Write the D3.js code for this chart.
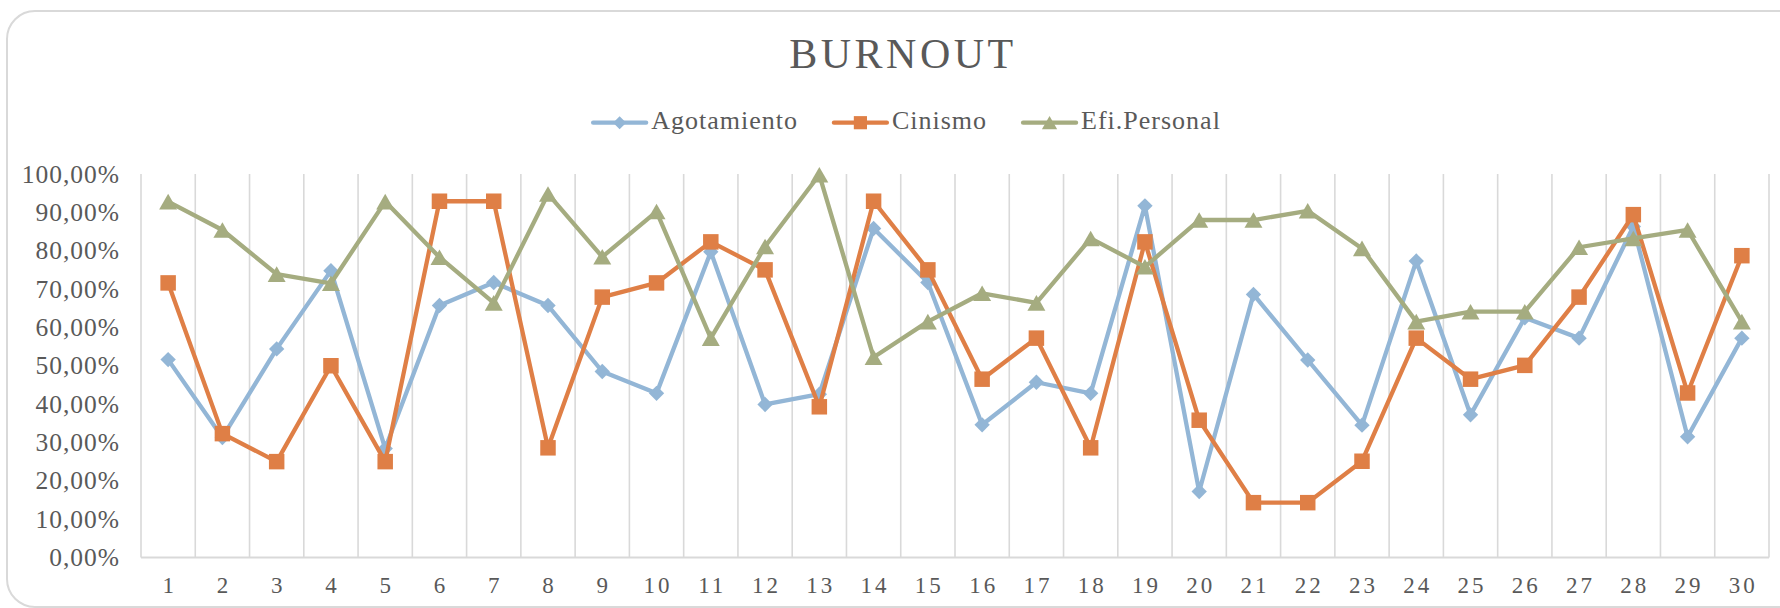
<!DOCTYPE html>
<html>
<head>
<meta charset="utf-8">
<script src="https://cdn.jsdelivr.net/npm/d3@7"></script>
<style>
  html, body { margin: 0; padding: 0; background: #ffffff; }
  svg { display: block; }
  text { font-family: "Liberation Serif", "DejaVu Serif", serif; fill: #595959; }
</style>
</head>
<body>
<svg id="chart" width="1780" height="608"></svg>
<script>
// ---- data ----
const categories = ["1","2","3","4","5","6","7","8","9","10","11","12","13","14","15","16","17","18","19","20","21","22","23","24","25","26","27","28","29","30"];
const seriesNames = ["Agotamiento", "Cinismo", "Efi.Personal"];
const agotamiento = [51.6, 31.3, 54.4, 74.8, 28.4, 65.7, 71.7, 65.7, 48.5, 42.8, 79.7, 39.9, 42.6, 85.8, 71.7, 34.6, 45.7, 42.8, 91.7, 17.2, 68.6, 51.5, 34.5, 77.3, 37.2, 62.5, 57.2, 86.3, 31.5, 57.2];
const cinismo = [71.6, 32.3, 25.0, 50.0, 25.0, 92.9, 92.9, 28.6, 67.9, 71.6, 82.3, 75.0, 39.3, 92.9, 75.0, 46.5, 57.2, 28.6, 82.3, 35.8, 14.3, 14.3, 25.1, 57.2, 46.5, 50.1, 67.9, 89.4, 42.9, 78.7];
const efiPersonal = [92.8, 85.4, 73.9, 71.5, 92.8, 78.3, 66.4, 94.8, 78.4, 90.2, 57.2, 81.1, 99.8, 52.2, 61.5, 68.9, 66.4, 83.2, 75.8, 88.0, 88.0, 90.4, 80.6, 61.5, 64.1, 64.1, 80.9, 83.2, 85.4, 61.5];
const yTicks = [0, 10, 20, 30, 40, 50, 60, 70, 80, 90, 100];
const titleText = "BURNOUT";

// ---- styles ----
const colors = ["#93b6d6", "#df7f46", "#a5ac80"];
const symbols = ["diamond", "square", "triangle"];

const svg = d3.select("#chart");

// chart area border
svg.append("rect")
  .attr("x", 7).attr("y", 11)
  .attr("width", 1800).attr("height", 596)
  .attr("rx", 28).attr("ry", 28)
  .attr("fill", "#ffffff")
  .attr("stroke", "#d9d9d9")
  .attr("stroke-width", 2);

const plot = { left: 141, right: 1769, top: 174, bottom: 557.5 };

const x = d3.scaleBand().domain(categories).range([plot.left, plot.right]).padding(0);
const y = d3.scaleLinear().domain([0, 100]).range([plot.bottom, plot.top]);

// vertical gridlines at category boundaries
const bounds = categories.map(c => x(c)).concat([x.range()[1]]);
svg.append("g").selectAll("line").data(bounds).join("line")
  .attr("x1", d => d).attr("x2", d => d)
  .attr("y1", y(100)).attr("y2", y(0))
  .attr("stroke", "#d9d9d9").attr("stroke-width", 1.6);

// bottom axis line
svg.append("line")
  .attr("x1", plot.left).attr("x2", plot.right)
  .attr("y1", y(0)).attr("y2", y(0))
  .attr("stroke", "#d9d9d9").attr("stroke-width", 2);

// x axis labels
const xAxis = svg.append("g")
  .attr("transform", `translate(0,${y(0)})`)
  .call(d3.axisBottom(x).tickSize(0).tickPadding(19));
xAxis.select(".domain").remove();
xAxis.selectAll("text")
  .style("font-family", '"Liberation Serif", serif')
  .style("font-size", "23px")
  .style("letter-spacing", "3px")
  .attr("dx", "1.5px")
  .attr("fill", "#595959");

// y axis labels
const locale = d3.formatLocale({ decimal: ",", thousands: ".", grouping: [3], currency: ["", "€"] });
const pct = locale.format(".2f");
const yAxis = svg.append("g")
  .attr("transform", `translate(120,0)`)
  .call(d3.axisLeft(y).tickValues(yTicks).tickSize(0).tickPadding(0).tickFormat(d => pct(d) + "%"));
yAxis.select(".domain").remove();
yAxis.selectAll("text")
  .style("font-family", '"Liberation Serif", serif')
  .style("font-size", "25.5px")
  .style("letter-spacing", "1px")
  .attr("fill", "#595959");

// symbol helpers
const symSizes = { diamond: 118, square: 240, triangle: 140 };
function symbolPath(kind, scale) {
  const s = symSizes[kind] * scale * scale;
  if (kind === "triangle") return d3.symbol().type(d3.symbolTriangle).size(s)();
  return d3.symbol().type(d3.symbolSquare).size(s)();
}
function symbolTransform(kind, px, py, scale) {
  if (kind === "diamond") return `translate(${px},${py}) rotate(45)`;
  if (kind === "triangle") {
    const side = Math.sqrt(symSizes.triangle * scale * scale * 4 / Math.sqrt(3));
    const h = side * Math.sqrt(3) / 2;
    return `translate(${px},${py + h / 6})`;
  }
  return `translate(${px},${py})`;
}

// series
const allSeries = [agotamiento, cinismo, efiPersonal];
const line = d3.line()
  .x((d, i) => x(categories[i]) + x.bandwidth() / 2)
  .y(d => y(d));

allSeries.forEach((vals, si) => {
  const g = svg.append("g");
  g.append("path")
    .datum(vals)
    .attr("d", line)
    .attr("fill", "none")
    .attr("stroke", colors[si])
    .attr("stroke-width", 4.3)
    .attr("stroke-linejoin", "round")
    .attr("stroke-linecap", "round");
  g.selectAll("path.m").data(vals).join("path")
    .attr("class", "m")
    .attr("d", symbolPath(symbols[si], 1))
    .attr("transform", (d, i) => symbolTransform(symbols[si], x(categories[i]) + x.bandwidth() / 2, y(d), 1))
    .attr("fill", colors[si]);
});

// title
svg.append("text")
  .attr("x", 903).attr("y", 68)
  .attr("text-anchor", "middle")
  .style("font-size", "42px")
  .style("letter-spacing", "3.5px")
  .text(titleText);

// legend
const legend = svg.append("g");
const lineLen = 53, gapAfterLine = 5, gapBetween = 36, legendY = 122.7;
let cursor = 0;
seriesNames.forEach((name, si) => {
  const it = legend.append("g");
  it.append("line")
    .attr("x1", cursor).attr("x2", cursor + lineLen)
    .attr("y1", legendY).attr("y2", legendY)
    .attr("stroke", colors[si]).attr("stroke-width", 4.3).attr("stroke-linecap", "round");
  it.append("path")
    .attr("d", symbolPath(symbols[si], 0.85))
    .attr("transform", symbolTransform(symbols[si], cursor + lineLen / 2, legendY, 0.85))
    .attr("fill", colors[si]);
  const t = it.append("text")
    .attr("x", cursor + lineLen + gapAfterLine)
    .attr("y", 129.3)
    .style("font-size", "26px")
    .style("letter-spacing", "1px")
    .text(name);
  const tw = t.node().getComputedTextLength();
  cursor += lineLen + gapAfterLine + tw + gapBetween;
});
const totalW = cursor - gapBetween;
legend.attr("transform", `translate(${907 - totalW / 2},0)`);
</script>
</body>
</html>
